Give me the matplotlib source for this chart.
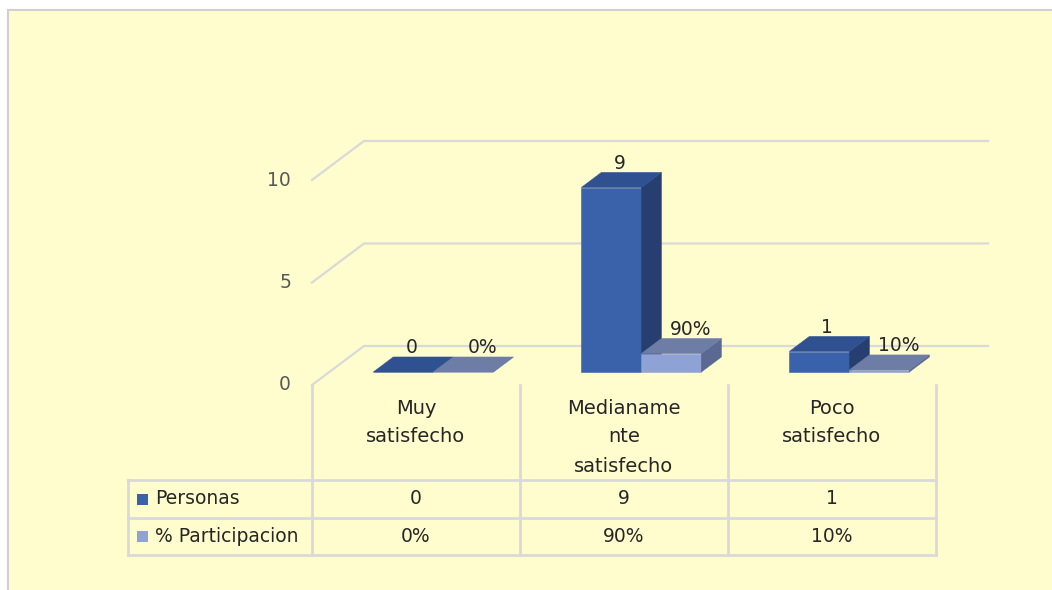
import matplotlib.pyplot as plt
from matplotlib.patches import Polygon, Rectangle

categories = ['Muy\nsatisfecho', 'Medianame\nnte\nsatisfecho', 'Poco\nsatisfecho']
personas = [0, 9, 1]
participacion = [0, 90, 10]          # percent
series_names = ['Personas', '% Participacion']
y_ticks = [0, 5, 10]

# colours: front, top, side
BLUE = ('#3A62AA', '#2F5192', '#263F70')
LIGHT = ('#8FA2D6', '#6E7DA6', '#5A6892')
GRID = '#D9D9D9'
BG = '#FFFDCD'
TXT = '#262626'

# layout (pixels in a 1052x590 canvas)
W, H = 1052, 590
X0, PX_CAT = 312, 208        # left edge of plot floor, width of one category
Y0, PX_UNIT = 385, 20.5      # baseline, pixels per value unit
DEPTH_X = 52 / PX_CAT        # depth of the floor in data units
DEPTH_Y = 39 / PX_UNIT
BAR_W = 60 / PX_CAT
BAR_D0, BAR_D1 = 0.333, 0.718


def px_x(p):
    return (p - X0) / PX_CAT


def px_y(p):
    return (Y0 - p) / PX_UNIT


def pt(x, y, d):
    return (x + d * DEPTH_X, y + d * DEPTH_Y)


def draw_box(ax, x0, h, cols):
    x1 = x0 + BAR_W
    d0, d1 = BAR_D0, BAR_D1
    front = [pt(x0, 0, d0), pt(x1, 0, d0), pt(x1, h, d0), pt(x0, h, d0)]
    top = [pt(x0, h, d0), pt(x1, h, d0), pt(x1, h, d1), pt(x0, h, d1)]
    side = [pt(x1, 0, d0), pt(x1, 0, d1), pt(x1, h, d1), pt(x1, h, d0)]
    for poly, c in ((front, cols[0]), (side, cols[2]), (top, cols[1])):
        ax.add_patch(Polygon(poly, closed=True, facecolor=c, edgecolor=c,
                             linewidth=0.4, zorder=3))


fig = plt.figure(figsize=(W / 100, H / 100), dpi=100)
fig.patch.set_facecolor('white')
# chart area: only the left and top edges fall inside the canvas
fig.add_artist(Rectangle((8 / W, -0.05), 1.1, 1.05 - 10 / H,
                         transform=fig.transFigure, facecolor=BG,
                         edgecolor='#D0D0D0', linewidth=1.5, zorder=-10))

ax = fig.add_axes([0, 0, 1, 1])
ax.set_xlim(px_x(0), px_x(W))
ax.set_ylim(px_y(H), px_y(0))
ax.axis('off')

# gridlines on side wall and back wall
n = len(categories)
for v in y_ticks:
    xs, ys = zip(pt(0, v, 0), pt(0, v, 1), pt(n, v, 1))
    ax.plot(xs, ys, color=GRID, linewidth=1.6, zorder=1)
    ax.text(px_x(291), v, str(v), ha='right', va='center', fontsize=13.5,
            color='#595959')

# bars
for i in range(n):
    hp = personas[i]
    hq = participacion[i] / 100
    xb = i + 0.5 - BAR_W
    draw_box(ax, xb, hp, BLUE)
    draw_box(ax, xb + BAR_W, hq, LIGHT)
    dm = (BAR_D0 + BAR_D1) / 2
    lx, ly = pt(xb + BAR_W / 2, hp, dm)
    ax.annotate(str(personas[i]), (lx, ly), xytext=(-2, 17),
                textcoords='offset pixels', ha='center', va='center',
                fontsize=13.5, color=TXT, zorder=5)
    lx, ly = pt(xb + BAR_W * 1.5, hq, dm)
    ax.annotate(f'{participacion[i]}%', (lx, ly), xytext=(9, 17),
                textcoords='offset pixels', ha='center', va='center',
                fontsize=13.5, color=TXT, zorder=5)

# data table
row_px = [385, 480, 518, 555]
left_px = 128
lw = 2.0
for k in range(n + 1):
    ax.plot([k, k], [px_y(row_px[0]), px_y(row_px[-1])], color=GRID,
            linewidth=lw, zorder=2)
ax.plot([px_x(left_px)] * 2, [px_y(row_px[1]), px_y(row_px[-1])], color=GRID,
        linewidth=lw, zorder=2)
for r in row_px[1:]:
    ax.plot([px_x(left_px), n], [px_y(r)] * 2, color=GRID, linewidth=lw,
            zorder=2)

for i, lab in enumerate(categories):
    for j, line in enumerate(lab.split('\n')):
        ax.text(i + 0.5, px_y(408 + 29 * j), line, ha='center', va='center',
                fontsize=14, color=TXT)

rows = [[str(v) for v in personas], [f'{v}%' for v in participacion]]
for r, (name, vals, cols) in enumerate(zip(series_names, rows, (BLUE, LIGHT))):
    yc = px_y((row_px[r + 1] + row_px[r + 2]) / 2)
    ax.add_patch(Rectangle((px_x(137), yc - 5.5 / PX_UNIT), 11 / PX_CAT,
                           11 / PX_UNIT, facecolor=cols[0], edgecolor='none'))
    ax.text(px_x(155), yc, name, ha='left', va='center', fontsize=13.5,
            color=TXT)
    for i, v in enumerate(vals):
        ax.text(i + 0.5, yc, v, ha='center', va='center', fontsize=13.5,
                color=TXT)

fig.savefig('out.png', dpi=100, facecolor=fig.get_facecolor())
